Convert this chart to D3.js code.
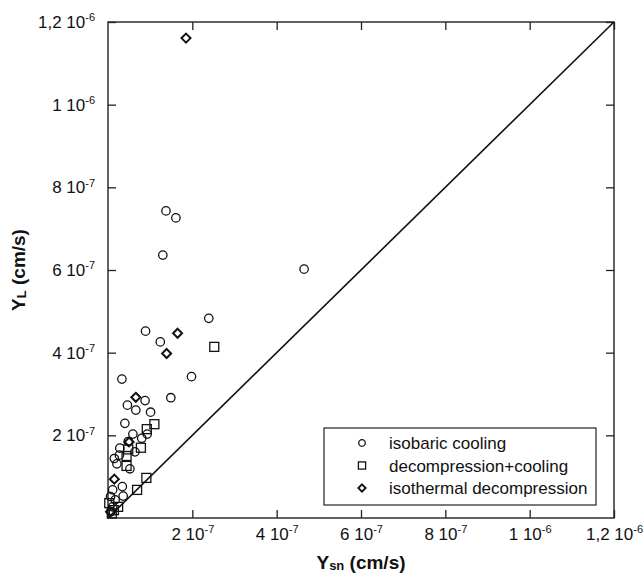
<!DOCTYPE html>
<html>
<head>
<meta charset="utf-8">
<script src="https://cdn.jsdelivr.net/npm/d3@7"></script>
<style>
  body { margin: 0; background: #fff; }
  svg { display: block; font-family: "Liberation Sans", Arial, Helvetica, sans-serif; }
</style>
</head>
<body>
<div id="chart"></div>
<script>
// values are in cm/s (units of 1e-7 then scaled)
const isobaricX = [1.375, 1.61, 1.30, 4.65, 0.89, 2.39, 1.24, 1.98, 0.33, 1.49, 0.88, 0.46, 0.66, 1.01, 0.40, 0.59, 0.93, 0.80, 0.28, 0.48, 0.15, 0.21, 0.52, 0.27, 0.64, 0.34, 0.11, 0.36, 0.06, 0.11, 0.17, 0.07];
const isobaricY = [7.43, 7.26, 6.36, 6.02, 4.52, 4.83, 4.26, 3.42, 3.36, 2.91, 2.84, 2.73, 2.61, 2.56, 2.29, 2.03, 2.03, 1.93, 1.69, 1.85, 1.44, 1.31, 1.19, 1.52, 1.60, 0.76, 0.68, 0.53, 0.52, 0.27, 0.44, 0.15];

const decompCoolX = [2.52, 1.10, 0.92, 0.78, 0.48, 0.44, 0.44, 0.91, 0.69, 0.03, 0.24, 0.09, 0.14];
const decompCoolY = [4.14, 2.27, 2.15, 1.70, 1.66, 1.50, 1.26, 0.97, 0.68, 0.36, 0.27, 0.11, 0.19];

const isothermalX = [1.85, 1.65, 1.39, 0.66, 0.50, 0.15, 0.06];
const isothermalY = [11.61, 4.47, 3.98, 2.92, 1.84, 0.94, 0.15];

const tickValues = [2e-7, 4e-7, 6e-7, 8e-7, 1e-6, 1.2e-6];
const tickBase = ["2 10", "4 10", "6 10", "8 10", "1 10", "1,2 10"];
const tickExp = ["-7", "-7", "-7", "-7", "-6", "-6"];

const diagonal = [0, 1.2e-6];

const seriesNames = ["isobaric cooling", "decompression+cooling", "isothermal decompression"];

const width = 644, height = 581;
const margins = { left: 108, top: 22, right: 30, bottom: 63 };
const chartWidth = width - margins.left - margins.right;
const chartHeight = height - margins.top - margins.bottom;

const xScale = d3.scaleLinear().domain([0, 1.2e-6]).range([0, chartWidth]);
const yScale = d3.scaleLinear().domain([0, 1.2e-6]).range([chartHeight, 0]);

const toPoints = (xs, ys) => xs.map((x, i) => ({ x: x * 1e-7, y: ys[i] * 1e-7 }));

const svg = d3.select("#chart").append("svg")
  .attr("width", width)
  .attr("height", height);

const mainG = svg.append("g")
  .attr("transform", `translate(${margins.left}, ${margins.top})`);

// label with superscript exponent
function expLabels(sel) {
  sel.selectAll(".tick text").each(function (d, i) {
    const t = d3.select(this).text("");
    t.append("tspan").text(tickBase[i]);
    t.append("tspan").attr("dy", "-0.6em").attr("font-size", "11px").text(tickExp[i]);
  });
}

// AXIS (ticks point inward on all four sides)
const xAxis = d3.axisBottom(xScale).tickValues(tickValues).tickSize(-8).tickSizeOuter(0).tickPadding(10);
const yAxis = d3.axisLeft(yScale).tickValues(tickValues).tickSize(-8).tickSizeOuter(0).tickPadding(13);
const xTop = d3.axisTop(xScale).tickValues(tickValues).tickSize(-8).tickSizeOuter(0).tickFormat("");
const yRight = d3.axisRight(yScale).tickValues(tickValues).tickSize(-8).tickSizeOuter(0).tickFormat("");

const gx = mainG.append("g").attr("transform", `translate(0, ${chartHeight})`).call(xAxis);
const gy = mainG.append("g").call(yAxis);
const gt = mainG.append("g").call(xTop);
const gr = mainG.append("g").attr("transform", `translate(${chartWidth}, 0)`).call(yRight);

[gx, gy, gt, gr].forEach((g) => {
  g.select(".domain").remove();
  g.selectAll(".tick line").attr("stroke", "#222").attr("stroke-width", 1.3);
  g.selectAll("text").attr("font-size", "17px").attr("fill", "#111");
});
expLabels(gx);
expLabels(gy);

// frame
mainG.append("rect")
  .attr("width", chartWidth)
  .attr("height", chartHeight)
  .attr("fill", "none")
  .attr("stroke", "#222")
  .attr("stroke-width", 1.4);

// 1:1 line
mainG.append("line")
  .attr("x1", xScale(diagonal[0]))
  .attr("y1", yScale(diagonal[0]))
  .attr("x2", xScale(diagonal[1]))
  .attr("y2", yScale(diagonal[1]))
  .attr("stroke", "#111")
  .attr("stroke-width", 1.6);

const diamondPath = (s) => `M0,${-s}L${s},0L0,${s}L${-s},0Z`;

// circles
mainG.selectAll(".iso")
  .data(toPoints(isobaricX, isobaricY))
  .enter()
  .append("circle")
  .attr("class", "iso")
  .attr("cx", (d) => xScale(d.x))
  .attr("cy", (d) => yScale(d.y))
  .attr("r", 4.2)
  .attr("fill", "none")
  .attr("stroke", "#111")
  .attr("stroke-width", 1.3);

// squares
mainG.selectAll(".dec")
  .data(toPoints(decompCoolX, decompCoolY))
  .enter()
  .append("rect")
  .attr("class", "dec")
  .attr("x", (d) => xScale(d.x) - 4.5)
  .attr("y", (d) => yScale(d.y) - 4.5)
  .attr("width", 9)
  .attr("height", 9)
  .attr("fill", "none")
  .attr("stroke", "#111")
  .attr("stroke-width", 1.3);

// diamonds
mainG.selectAll(".ith")
  .data(toPoints(isothermalX, isothermalY))
  .enter()
  .append("path")
  .attr("class", "ith")
  .attr("transform", (d) => `translate(${xScale(d.x)}, ${yScale(d.y)})`)
  .attr("d", diamondPath(4.5))
  .attr("fill", "none")
  .attr("stroke", "#111")
  .attr("stroke-width", 2);

// axis titles
const xTitle = svg.append("text")
  .attr("x", margins.left + chartWidth / 2)
  .attr("y", 569)
  .attr("text-anchor", "middle")
  .attr("font-weight", "bold")
  .attr("font-size", "19px")
  .attr("fill", "#111");
xTitle.append("tspan").text("Y");
xTitle.append("tspan").attr("font-size", "13px").attr("dy", "1").text("sn");
xTitle.append("tspan").attr("dy", "-1").text(" (cm/s)");

const yTitle = svg.append("text")
  .attr("transform", `translate(25, ${margins.top + chartHeight / 2}) rotate(-90)`)
  .attr("text-anchor", "middle")
  .attr("font-weight", "bold")
  .attr("font-size", "19px")
  .attr("fill", "#111");
yTitle.append("tspan").text("Y");
yTitle.append("tspan").attr("font-size", "13px").attr("dy", "1").text("L");
yTitle.append("tspan").attr("dy", "-1").text(" (cm/s)");

// legend
const legend = svg.append("g").attr("transform", "translate(324, 428)");
legend.append("rect")
  .attr("width", 272)
  .attr("height", 77)
  .attr("fill", "#fff")
  .attr("stroke", "#222")
  .attr("stroke-width", 1.2);

const rows = legend.selectAll(".row")
  .data(seriesNames)
  .enter()
  .append("g")
  .attr("class", "row")
  .attr("transform", (d, i) => `translate(38, ${15 + i * 22.5})`);

rows.each(function (d, i) {
  const g = d3.select(this);
  if (i === 0) {
    g.append("circle").attr("r", 3.3).attr("fill", "none").attr("stroke", "#111").attr("stroke-width", 1.3);
  } else if (i === 1) {
    g.append("rect").attr("x", -3.6).attr("y", -3.6).attr("width", 7.2).attr("height", 7.2)
      .attr("fill", "none").attr("stroke", "#111").attr("stroke-width", 1.3);
  } else {
    g.append("path").attr("d", diamondPath(3.7)).attr("fill", "none").attr("stroke", "#111").attr("stroke-width", 1.8);
  }
  g.append("text")
    .attr("x", 27)
    .attr("y", 6)
    .attr("font-size", "17px")
    .attr("fill", "#111")
    .text(d);
});
</script>
</body>
</html>
